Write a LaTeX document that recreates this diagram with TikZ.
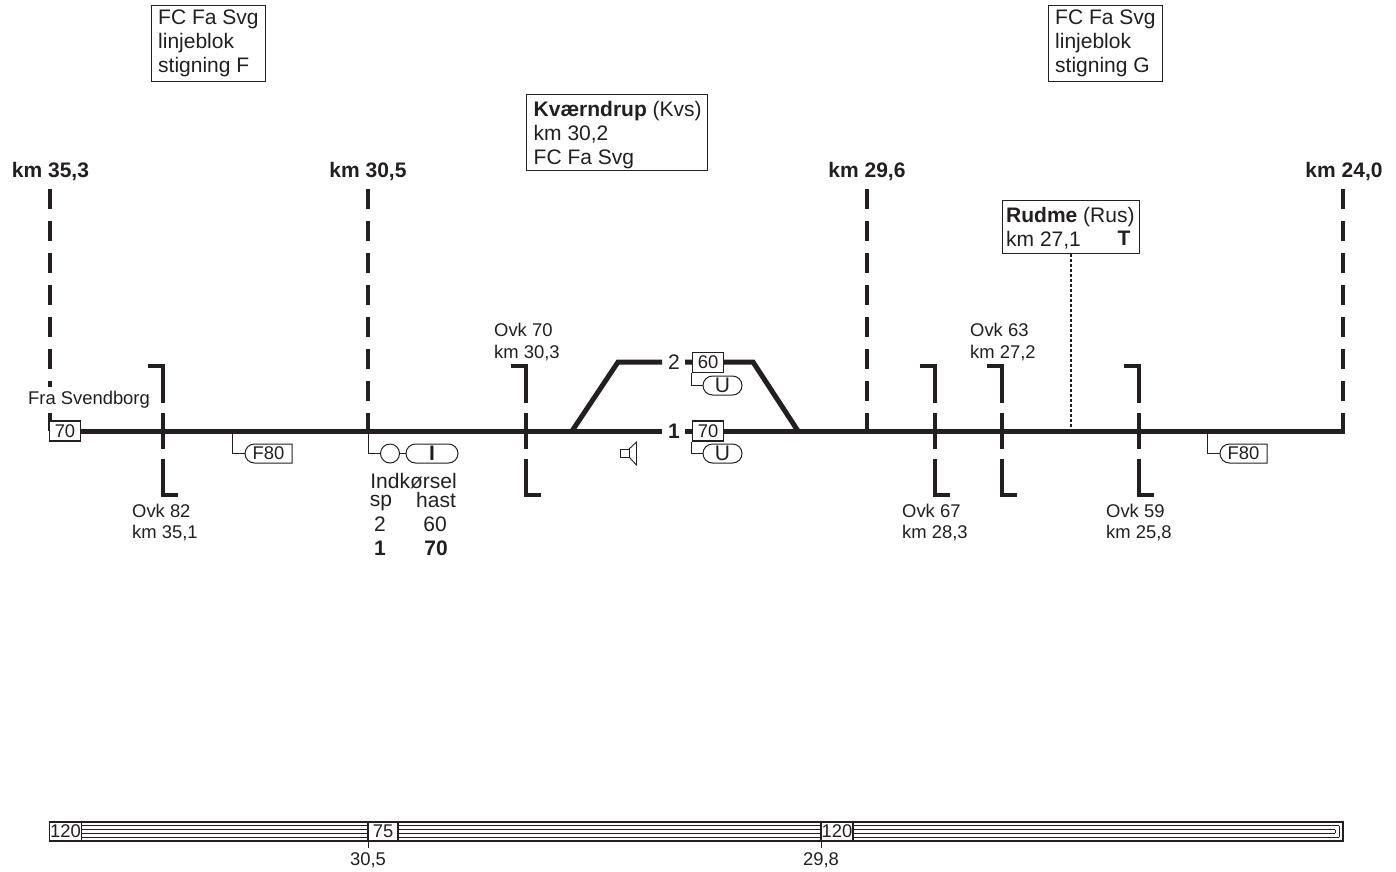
\documentclass[tikz,border=0pt]{standalone}
\usepackage{fontspec}
\setmainfont{Liberation Sans}
\newcommand{\fa}{\fontsize{21}{24}\selectfont}
\newcommand{\fb}{\fontsize{18.4}{21.5}\selectfont}
\definecolor{ink}{HTML}{231F20}
\tikzset{
 track/.style={line width=5pt,line join=miter},
 kmline/.style={line width=4pt,dash pattern=on 20pt off 12pt},
 ovk/.style={line width=3.6pt,line join=miter},
 thin/.style={line width=1pt},
 infobox/.style={draw,line width=1.1pt,fill=white,inner sep=0pt,anchor=north west,align=left,font=\fa},
 tx/.style={inner sep=0pt,font=\fa},
 sm/.style={inner sep=0pt,font=\fb,align=left},
 sbox/.style={draw,line width=1.1pt,fill=white,inner sep=0pt,font=\fb,minimum width=31pt,minimum height=20pt},
}
\newcommand{\ovkm}[2]{% name, x
 \coordinate (#1a) at (#2-15,366);
 \coordinate (#1b) at (#2,366);
 \coordinate (#1c) at (#2,403);
 \coordinate (#1d) at (#2,413);
 \coordinate (#1e) at (#2,449);
 \coordinate (#1f) at (#2,459);
 \coordinate (#1g) at (#2,495);
 \coordinate (#1h) at (#2+15,495);
 \draw[ovk] (#1a)--(#1b)--(#1c);
 \draw[ovk] (#1d)--(#1e);
 \draw[ovk] (#1f)--(#1g)--(#1h);
}
\newcommand{\pill}[5]{% name,x1,x2,y,text: both ends round
 \node[inner sep=0pt,font=\fa] (#1) at ({(#2+#3)/2},#4) {#5};
 \draw[thin] (#2+9.5,#4-9.5) -- (#3-9.5,#4-9.5) arc[start angle=-90,end angle=90,radius=9.5] -- (#2+9.5,#4+9.5) arc[start angle=90,end angle=270,radius=9.5];
}
\newcommand{\fpill}[4]{% name,x1,x2,y
 \node[inner sep=0pt,font=\fb] (#1) at ({(#2+#3)/2},#4) {F80};
 \draw[thin] (#2+9.5,#4-9.5) -- (#3,#4-9.5) -- (#3,#4+9.5) -- (#2+9.5,#4+9.5) arc[start angle=90,end angle=270,radius=9.5];
}
\begin{document}
\begin{tikzpicture}[x=1pt,y=-1pt,color=ink,every node/.append style={text=ink}]
\useasboundingbox (0,0) rectangle (1396,871);
\fill[white] (0,0) rectangle (1396,871);
% km lines
\foreach \n/\x in {a/50,b/368,c/867,d/1343}{
 \coordinate (k\n t) at (\x,189);
 \coordinate (k\n b) at (\x,431);
 \draw[kmline] (k\n t)--(k\n b);
}
\node[tx,font=\fa\bfseries] (ka) at (50.5,172) {km 35,3};
\node[tx,font=\fa\bfseries] (kb) at (368,172) {km 30,5};
\node[tx,font=\fa\bfseries] (kc) at (867,172) {km 29,6};
\node[tx,font=\fa\bfseries] (kd) at (1344,172) {km 24,0};
% Fra Svendborg
\node[sm,fill=white,minimum height=26pt,inner xsep=1pt] (fra) at (89,399.5) {Fra Svendborg};
% tracks
\coordinate (m0) at (50,431); \coordinate (m1) at (662,431);
\coordinate (m2) at (685,431); \coordinate (m3) at (1345,431);
\draw[track] (m0)--(m1); \draw[track] (m2)--(m3);
\coordinate (u0) at (572,431); \coordinate (u1) at (618,362); \coordinate (u2) at (662,362);
\coordinate (u3) at (685,362); \coordinate (u4) at (753,362); \coordinate (u5) at (798,431);
\draw[track] (u0)--(u1)--(u2);
\draw[track] (u3)--(u4)--(u5);
\node[tx,font=\fa\bfseries] (t1) at (674,431) {1};
\node[tx] (t2) at (674,362) {2};
% ovk
\ovkm{p}{163}\ovkm{q}{526}\ovkm{r}{935}\ovkm{s}{1002}\ovkm{v}{1139}
\node[sm,anchor=north west] (o82) at (132,503.5) {Ovk 82\\km 35,1};
\node[sm,anchor=north west] (o70) at (494,323) {Ovk 70\\km 30,3};
\node[sm,anchor=north west] (o67) at (902,503.5) {Ovk 67\\km 28,3};
\node[sm,anchor=north west] (o63) at (970,323) {Ovk 63\\km 27,2};
\node[sm,anchor=north west] (o59) at (1106,503.5) {Ovk 59\\km 25,8};
% speed boxes
\node[sbox] (b70) at (65,431) {70};
\node[sbox] (b70b) at (708,431) {70};
\node[sbox] (b60) at (708,362.5) {60};
% U signs
\pill{u60}{703}{742}{385.5}{U}
\pill{u70}{703}{742}{453.5}{U}
\coordinate (c60) at (703,385.5);
\coordinate (c70) at (703,453.5);
\draw[thin] (b60.south west)|-(c60);
\draw[thin] (b70b.south west)|-(c70);
% F80
\fpill{f1}{245}{292}{453.5}
\fpill{f2}{1220}{1267}{453.5}
\coordinate (f1s) at (232,431); \coordinate (f1e) at (245,453.5);
\coordinate (f2s) at (1207,431); \coordinate (f2e) at (1220,453.5);
\draw[thin] (f1s)|-(f1e);
\draw[thin] (f2s)|-(f2e);
% signal
\node[draw,circle,line width=1pt,minimum size=19pt,inner sep=0pt] (sig) at (390,453.5) {};
\pill{ind}{406}{458}{453.5}{\bfseries I}
\coordinate (ss) at (368,431); \coordinate (se) at (406,453.5);
\draw[thin] (ss)|-(sig.west);
\draw[thin] (sig.east)--(se);
% Entry table
\node[tx] (i0) at (413.5,481) {Indkørsel};
\node[tx] (i1) at (381,503) {sp};
\node[tx] (i2) at (436,500) {hast};
\node[tx] (i3) at (380,524) {2};
\node[tx] (i4) at (435,524) {60};
\node[tx,font=\fa\bfseries] (i5) at (380,548) {1};
\node[tx,font=\fa\bfseries] (i6) at (436,548) {70};
% speaker
\draw[line width=.9pt] (620,449) rectangle (629,457);
\draw[line width=.9pt] (629,449)--(636.5,442)--(636.5,465)--(629,457);
% info boxes
\node[infobox,minimum width=114pt,minimum height=76pt] (fcf) at (151,5) {};
\node[tx,anchor=north west,align=left,font=\fa] (fcft) at (158,10) {FC Fa Svg\\linjeblok\\stigning F};
\node[infobox,minimum width=114pt,minimum height=76pt] (fcg) at (1048,5) {};
\node[tx,anchor=north west,align=left,font=\fa] (fcgt) at (1055,10) {FC Fa Svg\\linjeblok\\stigning G};
\node[infobox,minimum width=181pt,minimum height=76pt] (kvs) at (526,94) {};
\node[tx,anchor=north west,align=left,font=\fa] (kvst) at (533.5,101) {\textbf{Kværndrup} (Kvs)\\km 30,2\\FC Fa Svg};
\node[infobox,minimum width=137pt,minimum height=53pt] (rus) at (1002,200) {};
\node[tx,anchor=north west,align=left,font=\fa] (rust) at (1006,207) {\textbf{Rudme} (Rus)\\km 27,1};
\node[tx,font=\fa\bfseries] (rusT) at (1124,238.5) {T};
\coordinate (rd) at (1071,427);
\draw[line width=2.5pt,dash pattern=on 2.5pt off 2.5pt] (rus.south -| rd)--(rd);
% speed bar
\draw[line width=1.2pt] (49.5,822) rectangle (1343,841);
\foreach \i in {1,2}{
 \draw[line width=1.2pt] (49.5,{822+\i*3.8}) -- ({1343-\i*3.8},{822+\i*3.8});
 \draw[line width=1.2pt] (49.5,{841-\i*3.8}) -- ({1343-\i*3.8},{841-\i*3.8});
}
\draw[line width=1.2pt] (1339.2,825.8)--(1339.2,837.2);
\draw[line width=1.2pt] (1335.4,829.6)--(1335.4,833.4);
\node[sbox,minimum width=32pt,minimum height=19pt] (s1) at (65.5,831.5) {120};
\node[sbox,minimum width=30pt,minimum height=19pt] (s2) at (383,831.5) {75};
\node[sbox,minimum width=32pt,minimum height=19pt] (s3) at (837,831.5) {120};
\coordinate (t1a) at (368,841); \coordinate (t1b) at (368,848);
\coordinate (t2a) at (821,841); \coordinate (t2b) at (821,848);
\draw[thin] (t1a)--(t1b); \draw[thin] (t2a)--(t2b);
\node[sm] (l1) at (368,860) {30,5};
\node[sm] (l2) at (821,860) {29,8};
\end{tikzpicture}
\end{document}
